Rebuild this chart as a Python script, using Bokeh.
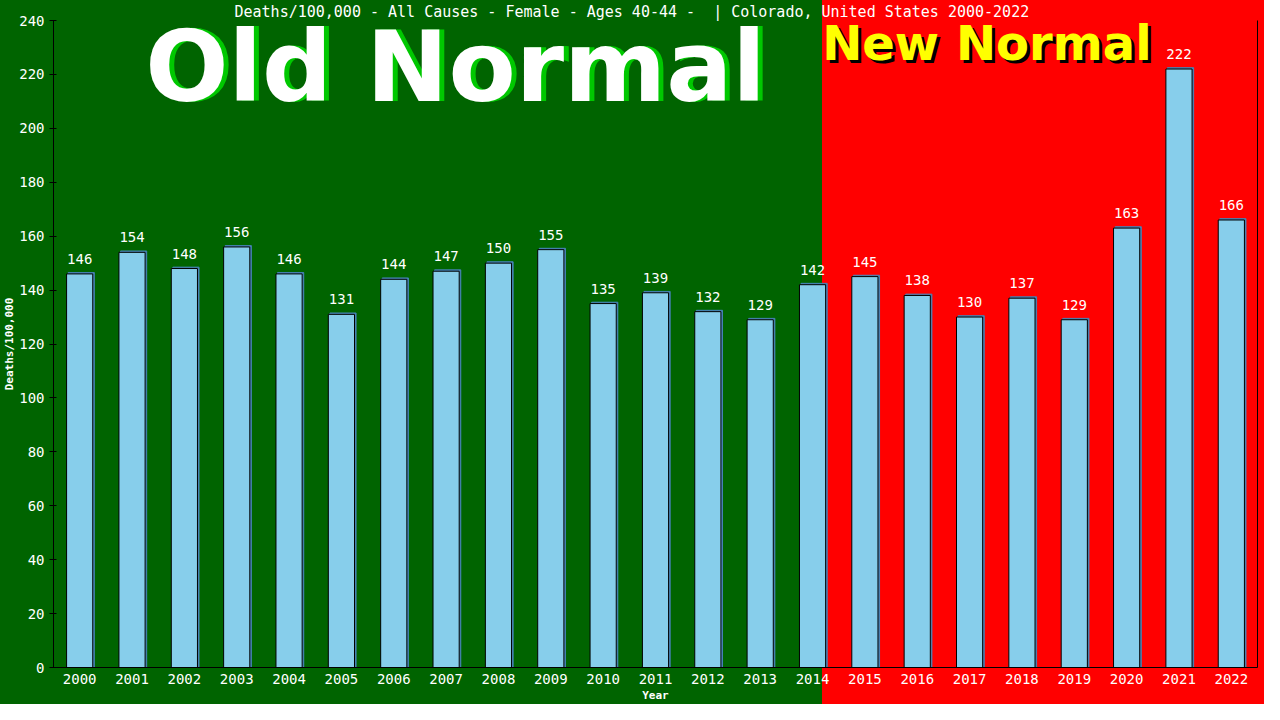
from bokeh.plotting import figure
from bokeh.models import Range1d, FixedTicker, LinearAxis, Label, ColumnDataSource
from bokeh.transform import dodge
from bokeh.core.properties import value
from bokeh.embed import file_html
from bokeh.resources import INLINE

years = list(range(2000, 2023))
deaths = [146, 154, 148, 156, 146, 131, 144, 147, 150, 155, 135, 139, 132, 129,
          142, 145, 138, 130, 137, 129, 163, 222, 166]
labels = [str(v) for v in deaths]
y_ticks = list(range(0, 241, 20))
title_text = "Deaths/100,000 - All Causes - Female - Ages 40-44 - \u00a0| Colorado, United States 2000-2022"

GREEN = "#006400"
RED = "#ff0000"
MONO = "DejaVu Sans Mono"
BOLD = "DejaVu Sans"

p = figure(width=1264, height=704, output_backend="svg", toolbar_location=None,
           x_range=Range1d(1999.5, 2022.5), y_range=Range1d(0, 240),
           min_border_left=0, min_border_right=7, min_border_top=0, min_border_bottom=0,
           border_fill_color=None, background_fill_color=None, outline_line_color=None,
           styles={"background": f"linear-gradient(to right, {GREEN} 0px, {GREEN} 822px, {RED} 822px, {RED} 100%)"})

p.title.text = title_text
p.title.align = "left"
p.title.text_color = "white"
p.title.text_font = MONO
p.title.text_font_size = "15px"
p.title.text_font_style = "normal"
p.title.standoff = 0
p.title.offset = 181
p.title.text_line_height = 1.0

p.grid.visible = False

for ax in (p.xaxis, p.yaxis):
    ax.axis_line_color = "black"
    ax.axis_line_width = 1
    ax.major_label_text_color = "white"
    ax.major_label_text_font = MONO
    ax.major_label_text_font_size = "14px"
    ax.minor_tick_line_color = None
    ax.axis_label_text_color = "white"
    ax.axis_label_text_font = MONO
    ax.axis_label_text_font_size = "11px"
    ax.axis_label_text_font_style = "bold"

p.yaxis.ticker = FixedTicker(ticks=y_ticks)
p.yaxis.major_tick_line_color = "black"
p.yaxis.major_tick_in = 3
p.yaxis.major_tick_out = 4
p.yaxis.major_label_standoff = 5
p.yaxis.axis_label = "Deaths/100,000"
p.yaxis.axis_label_standoff = 0

p.xaxis.ticker = FixedTicker(ticks=years)
p.xaxis.major_tick_line_color = None
p.xaxis.major_tick_in = 0
p.xaxis.major_tick_out = 0
p.xaxis.major_label_standoff = 6
p.xaxis.axis_label = "Year"
p.xaxis.axis_label_standoff = 2

right = LinearAxis(ticker=FixedTicker(ticks=[]), axis_line_color="black",
                   major_tick_line_color=None, minor_tick_line_color=None,
                   major_label_text_font_size="0px", major_tick_in=0, major_tick_out=0,
                   major_label_standoff=0)
p.add_layout(right, "right")

src = ColumnDataSource(dict(year=years, deaths=deaths, label=labels))

# bar shadow
p.vbar(x=dodge("year", 0.03), top=dodge("deaths", 0.5), width=0.5,
       fill_color="#4682b4", line_color="#4682b4", source=src)
p.vbar(x="year", top="deaths", width=0.5, fill_color="#87ceeb",
       line_color="black", line_width=1, source=src)
p.text(x="year", y="deaths", text="label", text_align="center",
       text_baseline="alphabetic", y_offset=-15, text_color="white",
       text_font=value(MONO), text_font_size="14px", source=src)

old_x, old_y = 2007.18, 222.7
new_x, new_y = 2017.33, 231.5
old_shadow = Label(x=old_x, y=old_y, text="Old Normal", text_align="center",
                   text_baseline="alphabetic", text_font=BOLD, text_font_style="bold",
                   text_font_size="98px", text_color="#00c800", x_offset=5, y_offset=0)
old = Label(x=old_x, y=old_y, text="Old Normal", text_align="center",
            text_baseline="alphabetic", text_font=BOLD, text_font_style="bold",
            text_font_size="98px", text_color="white")
new_shadow = Label(x=new_x, y=new_y, text="New Normal", text_align="center",
                   text_baseline="alphabetic", text_font=BOLD, text_font_style="bold",
                   text_font_size="48px", text_color="black", x_offset=3, y_offset=-3)
new = Label(x=new_x, y=new_y, text="New Normal", text_align="center",
            text_baseline="alphabetic", text_font=BOLD, text_font_style="bold",
            text_font_size="48px", text_color="#ffff00")
for lab in (old_shadow, old, new_shadow, new):
    p.add_layout(lab)

open("out.html", "w").write(file_html(p, INLINE))
